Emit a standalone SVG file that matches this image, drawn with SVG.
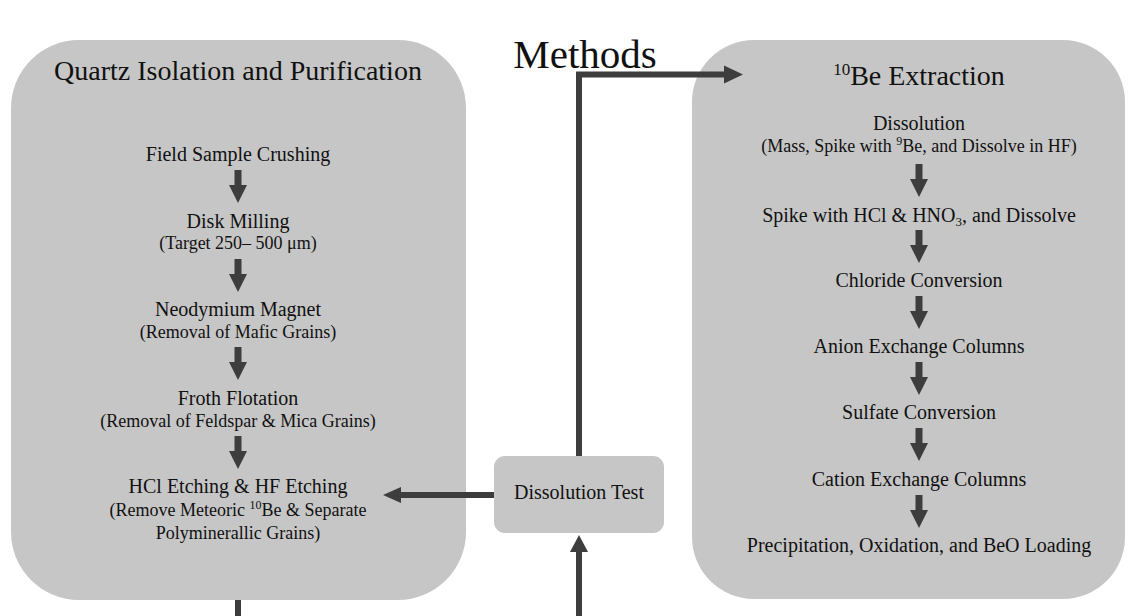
<svg xmlns="http://www.w3.org/2000/svg" width="1135" height="616" viewBox="0 0 1135 616">
<style>
.panel{fill:#c6c6c6}
text{font-family:"Liberation Serif","Times New Roman",serif;fill:#111;text-anchor:middle}
.t1{font-size:28px}
.t2{font-size:20px}
.t3{font-size:18px}
.hd{font-size:41px}
.ln{stroke:#3d3d3d;stroke-width:6;fill:none}
.ah{fill:#3d3d3d}
</style>
<defs>
<g id="darr"><rect x="-3.5" y="0" width="7" height="16" class="ah"/><polygon points="-9,15 9,15 0,33" class="ah"/></g>
</defs>
<rect width="1135" height="616" fill="#ffffff"/>
<text class="hd" x="585" y="68">Methods</text>

<g id="quartz">
<rect class="panel" x="11" y="40" width="455" height="560" rx="68"/>
<text class="t1" x="238" y="80">Quartz Isolation and Purification</text>
<text class="t2" x="238" y="161">Field Sample Crushing</text>
<use href="#darr" x="238" y="170"/>
<text class="t2" x="238" y="228">Disk Milling</text>
<text class="t3" x="238" y="249">(Target 250– 500 μm)</text>
<use href="#darr" x="238" y="259"/>
<text class="t2" x="238" y="316">Neodymium Magnet</text>
<text class="t3" x="238" y="338">(Removal of Mafic Grains)</text>
<use href="#darr" x="238" y="347"/>
<text class="t2" x="238" y="405">Froth Flotation</text>
<text class="t3" x="238" y="427">(Removal of Feldspar &amp; Mica Grains)</text>
<use href="#darr" x="238" y="436"/>
<text class="t2" x="238" y="493">HCl Etching &amp; HF Etching</text>
<text class="t3" x="238" y="516">(Remove Meteoric <tspan font-size="12" dy="-7">10</tspan><tspan dy="7">Be &amp; Separate</tspan></text>
<text class="t3" x="238" y="539">Polyminerallic Grains)</text>
</g>

<g id="extraction">
<rect class="panel" x="692" y="40" width="433" height="559" rx="62"/>
<text class="t1" x="919" y="85"><tspan font-size="17" dy="-10">10</tspan><tspan dy="10">Be Extraction</tspan></text>
<text class="t2" x="919" y="130">Dissolution</text>
<text class="t3" x="919" y="152">(Mass, Spike with <tspan font-size="12" dy="-7">9</tspan><tspan dy="7">Be, and Dissolve in HF)</tspan></text>
<use href="#darr" x="919" y="164"/>
<text class="t2" x="919" y="222">Spike with HCl &amp; HNO<tspan font-size="13" dy="4">3</tspan><tspan dy="-4">, and Dissolve</tspan></text>
<use href="#darr" x="919" y="230"/>
<text class="t2" x="919" y="287">Chloride Conversion</text>
<use href="#darr" x="919" y="296"/>
<text class="t2" x="919" y="353">Anion Exchange Columns</text>
<use href="#darr" x="919" y="362"/>
<text class="t2" x="919" y="419">Sulfate Conversion</text>
<use href="#darr" x="919" y="428"/>
<text class="t2" x="919" y="486">Cation Exchange Columns</text>
<use href="#darr" x="919" y="495"/>
<text class="t2" x="919" y="552">Precipitation, Oxidation, and BeO Loading</text>
</g>

<g id="dissolution-test">
<rect class="panel" x="494" y="456" width="170" height="77" rx="11"/>
<text class="t2" x="579" y="499">Dissolution Test</text>
</g>

<g id="connectors">
<polyline class="ln" points="579,456 579,74.5 726,74.5"/>
<polygon class="ah" points="724,65.5 743,74.5 724,83.5"/>
<line class="ln" x1="494" y1="495" x2="398" y2="495"/>
<polygon class="ah" points="401,487 383,495 401,503"/>
<line class="ln" x1="579" y1="616" x2="579" y2="550"/>
<polygon class="ah" points="570,552 579,535 588,552"/>
<line class="ln" x1="238" y1="600" x2="238" y2="616"/>
</g>
</svg>
